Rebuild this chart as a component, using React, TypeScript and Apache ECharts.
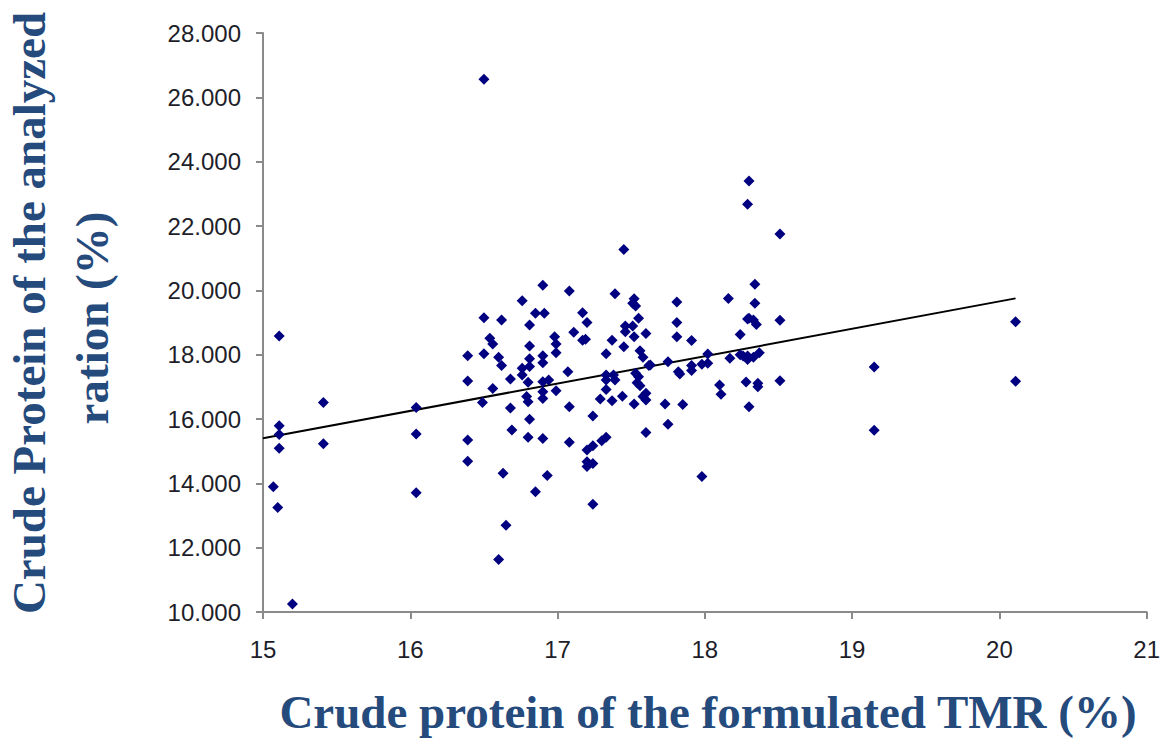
import React, { useEffect, useRef } from "react";
import * as echarts from "echarts";

const xTicks = [15, 16, 17, 18, 19, 20, 21];
const yTicks = [10, 12, 14, 16, 18, 20, 22, 24, 26, 28];

const pointsLeft: number[][] = [
  [15.11, 18.58], [15.11, 15.79], [15.11, 15.52], [15.11, 15.09], [15.07, 13.89], [15.10, 13.25], [15.20, 10.25],
  [15.41, 16.51], [15.41, 15.23], [16.04, 16.36], [16.04, 15.53], [16.04, 13.71],
  [16.39, 17.97], [16.39, 17.18], [16.39, 15.35], [16.39, 14.69],
];

const points165: number[][] = [
  [16.50, 26.56], [16.50, 19.15], [16.50, 18.03], [16.49, 16.51], [16.54, 18.51], [16.56, 18.33], [16.56, 16.95],
  [16.60, 17.92], [16.62, 17.66], [16.62, 19.08], [16.63, 14.31], [16.65, 12.70], [16.60, 11.63], [16.68, 17.24],
  [16.68, 16.34], [16.69, 15.66],
  [16.76, 19.68], [16.81, 18.92], [16.81, 18.27], [16.81, 17.87], [16.81, 17.63], [16.76, 17.58], [16.76, 17.37],
  [16.80, 17.14], [16.79, 16.70], [16.80, 16.54], [16.81, 15.99], [16.80, 15.43], [16.85, 13.74],
  [16.85, 19.29], [16.91, 19.29], [16.90, 20.16], [16.90, 17.97], [16.90, 17.75], [16.90, 17.16], [16.94, 17.21],
  [16.90, 16.85], [16.90, 16.64], [16.99, 16.88], [16.90, 15.39], [16.93, 14.24], [16.98, 18.56], [16.99, 18.33],
  [16.99, 18.06],
];

const points17: number[][] = [
  [17.08, 19.98], [17.11, 18.70], [17.07, 17.47], [17.08, 16.38], [17.08, 15.28], [17.17, 19.30], [17.20, 19.00],
  [17.17, 18.45], [17.19, 18.48], [17.24, 16.09], [17.20, 15.04], [17.24, 15.17], [17.20, 14.67], [17.24, 14.62],
  [17.20, 14.52], [17.24, 13.35],
  [17.30, 15.32], [17.33, 15.43], [17.33, 18.03], [17.33, 17.37], [17.38, 17.37], [17.33, 17.21], [17.39, 17.21],
  [17.33, 16.92], [17.29, 16.62], [17.37, 16.57], [17.44, 16.71], [17.39, 19.89], [17.37, 18.45], [17.45, 21.27],
  [17.46, 18.89], [17.46, 18.71], [17.45, 18.25],
  [17.52, 19.74], [17.51, 19.60], [17.53, 19.51], [17.55, 19.13], [17.51, 18.89], [17.52, 18.56], [17.56, 18.12],
  [17.58, 17.92], [17.62, 17.66], [17.60, 18.66], [17.53, 17.42], [17.55, 17.31], [17.54, 17.13], [17.56, 17.03],
  [17.52, 16.47], [17.60, 16.59], [17.60, 16.80], [17.58, 16.70], [17.60, 15.58],
  [17.75, 17.78], [17.63, 17.68], [17.73, 16.47], [17.75, 15.84], [17.81, 19.64], [17.81, 19.00], [17.81, 18.56],
  [17.82, 17.47], [17.83, 17.40], [17.85, 16.45],
];

const points18: number[][] = [
  [17.91, 18.44], [17.91, 17.66], [17.91, 17.51], [17.98, 17.70], [18.02, 18.02], [18.02, 17.73], [17.98, 14.21],
  [18.10, 17.06], [18.11, 16.77],
  [18.16, 19.75], [18.17, 17.89], [18.24, 18.63], [18.24, 18.00], [18.26, 17.96], [18.29, 17.85], [18.29, 17.96],
  [18.33, 17.92], [18.37, 18.06], [18.30, 23.40], [18.29, 22.68], [18.34, 20.19], [18.34, 19.60], [18.30, 19.13],
  [18.33, 19.08], [18.35, 18.94], [18.29, 19.11], [18.28, 17.15], [18.36, 17.11], [18.36, 17.00], [18.30, 16.38],
  [18.51, 21.75], [18.51, 19.07], [18.51, 17.19],
  [19.15, 17.62], [19.15, 15.65],
  [20.11, 19.02], [20.11, 17.17],
];

const trendLine: number[][] = [
  [15.0, 15.40],
  [20.11, 19.75],
];

const xTitle = "Crude protein of the formulated TMR (%)";
const yTitle1 = "Crude Protein of the analyzed";
const yTitle2 = "ration (%)";

export default function App() {
  const ref = useRef<HTMLDivElement>(null);
  useEffect(() => {
    document.body.style.margin = "0";
    const chart = echarts.init(ref.current!, null, { renderer: "svg" });
    const titleColor = "#254A7C";
    const labelColor = "#1e1e2a";
    const titleFont = "bold 47px 'Liberation Serif'";
    chart.setOption({
      animation: false,
      backgroundColor: "#fff",
      grid: { left: 263, top: 33, width: 884, height: 579, containLabel: false },
      xAxis: {
        type: "value",
        min: 15,
        max: 21,
        interval: 1,
        axisLine: { show: true, lineStyle: { color: "#8a8a8a", width: 2 } },
        axisTick: { show: true, length: 7, lineStyle: { color: "#8a8a8a", width: 2 } },
        splitLine: { show: false },
        axisLabel: {
          color: labelColor,
          fontFamily: "Liberation Sans",
          fontSize: 24,
          margin: 25,
          formatter: (v: number) => (xTicks.includes(v) ? String(v) : ""),
        },
      },
      yAxis: {
        type: "value",
        min: 10,
        max: 28,
        interval: 2,
        axisLine: { show: true, lineStyle: { color: "#8a8a8a", width: 2 } },
        axisTick: { show: true, length: 7, lineStyle: { color: "#8a8a8a", width: 2 } },
        splitLine: { show: false },
        axisLabel: {
          color: labelColor,
          fontFamily: "Liberation Sans",
          fontSize: 24,
          margin: 22,
          formatter: (v: number) => (yTicks.includes(v) ? v.toFixed(3) : ""),
        },
      },
      series: [
        {
          type: "line",
          data: trendLine,
          symbol: "none",
          lineStyle: { color: "#000", width: 2 },
          z: 3,
        },
        ...[pointsLeft, points165, points17, points18].map((d) => ({
          type: "scatter",
          data: d,
          symbol: "diamond",
          symbolSize: 11,
          itemStyle: { color: "#000080", opacity: 1 },
          z: 4,
        })),
      ],
      graphic: [
        {
          type: "text",
          x: 708,
          y: 688,
          style: {
            text: xTitle,
            fill: titleColor,
            font: titleFont,
            textAlign: "center",
            textVerticalAlign: "top",
          },
        },
        {
          type: "text",
          x: 5,
          y: 313,
          rotation: Math.PI / 2,
          style: {
            text: yTitle1,
            fill: titleColor,
            font: titleFont,
            textAlign: "center",
            textVerticalAlign: "top",
          },
        },
        {
          type: "text",
          x: 68,
          y: 318,
          rotation: Math.PI / 2,
          style: {
            text: yTitle2,
            fill: titleColor,
            font: titleFont,
            textAlign: "center",
            textVerticalAlign: "top",
          },
        },
      ],
    });
    return () => chart.dispose();
  }, []);
  return <div ref={ref} style={{ width: 1163, height: 742 }} />;
}
